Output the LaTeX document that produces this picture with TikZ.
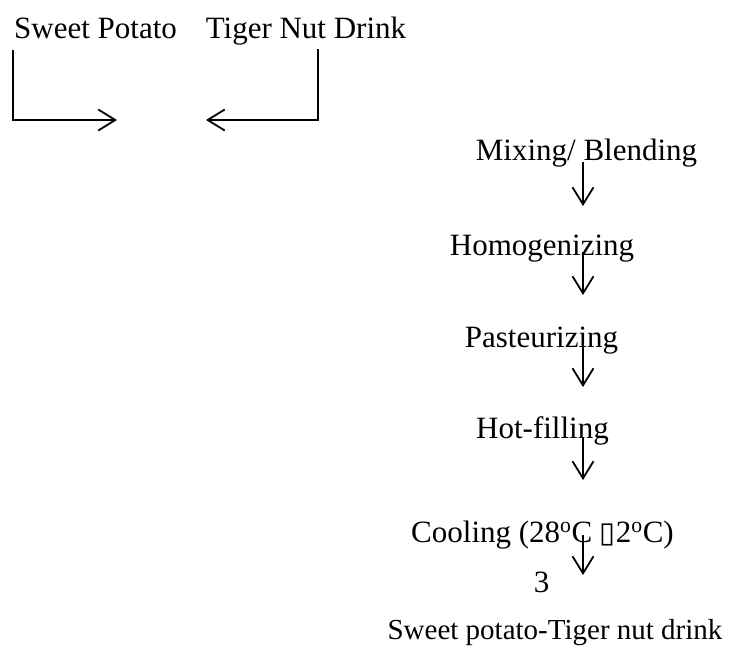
\documentclass[tikz,border=0pt]{standalone}
\usepackage{fontspec}
\setmainfont{Liberation Serif}
\newfontfamily\boxfont{DejaVu Sans}
\usetikzlibrary{arrows.meta}
\begin{document}
\begin{tikzpicture}[x=1pt,y=-1pt,
  lbl/.style={anchor=base,inner sep=0pt,font=\fontsize{31}{37}\selectfont},
  small/.style={font=\fontsize{29}{35}\selectfont},
  conn/.style={line width=1.8pt},
  arr/.style={conn,-{Straight Barb[length=17pt,width=21pt,line width=1.8pt]}}]
\path[use as bounding box] (0,0) rectangle (730,646);
% inputs
\node[lbl] (sp) at (95.5,38) {Sweet Potato};
\node[lbl] (tn) at (306,38) {Tiger Nut Drink};
\coordinate (spdown) at (13,50);
\coordinate (spcorner) at (13,120);
\coordinate (spend) at (117,120);
\coordinate (tndown) at (318,49);
\coordinate (tncorner) at (318,120);
\coordinate (tnend) at (206,120);
\draw[arr] (spdown) -- (spcorner) -- (spend);
\draw[arr] (tndown) -- (tncorner) -- (tnend);
% process steps
\node[lbl] (mix) at (586.5,160) {Mixing/ Blending};
\node[lbl] (hom) at (542,255) {Homogenizing};
\node[lbl] (pas) at (541.5,347) {Pasteurizing};
\node[lbl] (hot) at (542.5,438) {Hot-filling};
\node[lbl] (coo) at (542.5,542) {Cooling (28\textsuperscript{o}C {\boxfont\fontsize{29}{29}\selectfont ▯}2\textsuperscript{o}C)};
\node[lbl] (three) at (541.5,592) {3};
\node[lbl,small] (fin) at (555,639) {Sweet potato-Tiger nut drink};
% arrows
\coordinate (a1s) at (583,162); \coordinate (a1e) at (583,206);
\coordinate (a2s) at (583,252); \coordinate (a2e) at (583,295);
\coordinate (a3s) at (583,343); \coordinate (a3e) at (583,387);
\coordinate (a4s) at (583,437); \coordinate (a4e) at (583,480);
\coordinate (a5s) at (583,535); \coordinate (a5e) at (583,575);
\draw[arr] (a1s) -- (a1e);
\draw[arr] (a2s) -- (a2e);
\draw[arr] (a3s) -- (a3e);
\draw[arr] (a4s) -- (a4e);
\draw[arr] (a5s) -- (a5e);
\end{tikzpicture}
\end{document}
